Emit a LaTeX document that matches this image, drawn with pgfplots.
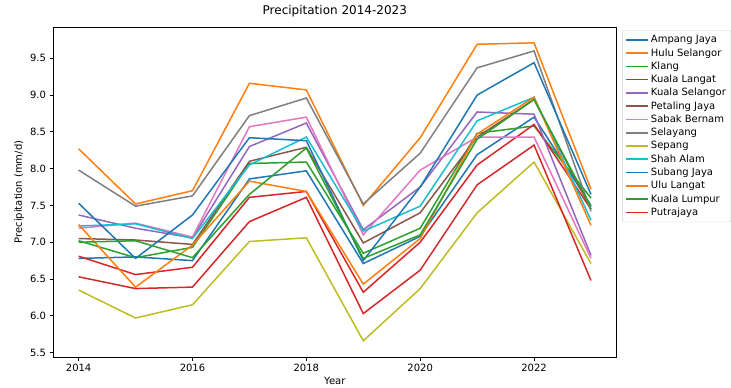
\documentclass[border=0pt]{standalone}
\usepackage{pgfplots}
\pgfplotsset{compat=1.18}
\usepackage{fontspec}
\setmainfont{DejaVu Sans}
\definecolor{c0}{HTML}{1F77B4}
\definecolor{c1}{HTML}{FF7F0E}
\definecolor{c2}{HTML}{2CA02C}
\definecolor{c3}{HTML}{D62728}
\definecolor{c4}{HTML}{9467BD}
\definecolor{c5}{HTML}{8C564B}
\definecolor{c6}{HTML}{E377C2}
\definecolor{c7}{HTML}{7F7F7F}
\definecolor{c8}{HTML}{BCBD22}
\definecolor{c9}{HTML}{17BECF}
\begin{document}
\begin{tikzpicture}
\begin{axis}[
  scale only axis, width=563.6pt, height=330pt,
  xmin=2013.55, xmax=2023.45, ymin=5.44, ymax=9.925,
  xtick={2014,2016,2018,2020,2022},
  ytick={5.5,6.0,6.5,7.0,7.5,8.0,8.5,9.0,9.5},
  /pgf/number format/assume math mode=true,
  xticklabel style={/pgf/number format/1000 sep={}},
  yticklabel style={/pgf/number format/fixed,/pgf/number format/precision=1,/pgf/number format/fixed zerofill},
  tick align=outside, major tick length=3.5pt, tick style={black, line width=0.8pt},
  xtick pos=bottom, ytick pos=left,
  axis line style={black, line width=0.8pt},
  ticklabel style={font=\fontsize{10}{12}\selectfont},
  title={Precipitation 2014-2023},
  title style={font=\fontsize{12}{14}\selectfont, at={(axis description cs:0.5,1.03)}, anchor=center},
  xlabel={Year}, ylabel={Precipitation (mm/d)},
  label style={font=\fontsize{10}{12}\selectfont},
  xlabel style={at={(axis description cs:0.5,-0.0727)}, anchor=center},
  ylabel style={at={(axis description cs:-0.0603,0.5)}, anchor=center},
  legend style={at={(1.01,0.99)}, anchor=north west, draw=gray!35, rounded corners=2pt,
    font=\fontsize{10}{12}\selectfont, row sep=0.2pt, inner sep=3pt},
  legend cell align=left,
  legend image code/.code={\draw[#1, line width=1.5pt] (0pt,0pt) -- (22pt,0pt);},
  every axis plot/.append style={line width=1.5pt, mark=none},
]
\coordinate (sw) at (rel axis cs:0,0);
\coordinate (ne) at (rel axis cs:1,1);
% Ampang Jaya
\addplot[c0] coordinates {(2014,6.78)(2015,6.80)(2016,6.75)(2017,7.86)(2018,7.97)(2019,6.71)(2020,7.08)(2021,8.19)(2022,8.70)(2023,7.50)};
\addlegendentry{Ampang Jaya}
% Hulu Selangor
\addplot[c1] coordinates {(2014,8.27)(2015,7.52)(2016,7.70)(2017,9.16)(2018,9.07)(2019,7.50)(2020,8.42)(2021,9.69)(2022,9.71)(2023,7.72)};
\addlegendentry{Hulu Selangor}
% Klang
\addplot[c2] coordinates {(2014,7.02)(2015,6.79)(2016,6.93)(2017,8.07)(2018,8.09)(2019,6.85)(2020,7.19)(2021,8.48)(2022,8.58)(2023,7.60)};
\addlegendentry{Klang}
% Kuala Langat
\addplot[c3] coordinates {(2014,6.81)(2015,6.56)(2016,6.66)(2017,7.61)(2018,7.69)(2019,6.32)(2020,7.00)(2021,8.05)(2022,8.60)(2023,7.45)};
\addlegendentry{Kuala Langat}
% Kuala Selangor
\addplot[c4] coordinates {(2014,7.37)(2015,7.19)(2016,7.06)(2017,8.30)(2018,8.62)(2019,7.17)(2020,7.75)(2021,8.77)(2022,8.74)(2023,6.82)};
\addlegendentry{Kuala Selangor}
% Petaling Jaya
\addplot[c5] coordinates {(2014,7.05)(2015,7.03)(2016,6.97)(2017,8.10)(2018,8.29)(2019,6.99)(2020,7.40)(2021,8.43)(2022,8.94)(2023,7.45)};
\addlegendentry{Petaling Jaya}
% Sabak Bernam
\addplot[c6] coordinates {(2014,7.19)(2015,7.26)(2016,7.07)(2017,8.57)(2018,8.70)(2019,7.10)(2020,7.98)(2021,8.43)(2022,8.43)(2023,6.78)};
\addlegendentry{Sabak Bernam}
% Selayang
\addplot[c7] coordinates {(2014,7.98)(2015,7.49)(2016,7.63)(2017,8.72)(2018,8.96)(2019,7.52)(2020,8.21)(2021,9.37)(2022,9.60)(2023,7.42)};
\addlegendentry{Selayang}
% Sepang
\addplot[c8] coordinates {(2014,6.35)(2015,5.97)(2016,6.15)(2017,7.01)(2018,7.06)(2019,5.66)(2020,6.37)(2021,7.40)(2022,8.09)(2023,6.71)};
\addlegendentry{Sepang}
% Shah Alam
\addplot[c9] coordinates {(2014,7.22)(2015,7.25)(2016,7.05)(2017,8.05)(2018,8.43)(2019,7.15)(2020,7.49)(2021,8.65)(2022,8.97)(2023,7.30)};
\addlegendentry{Shah Alam}
% Subang Jaya
\addplot[c0] coordinates {(2014,7.53)(2015,6.78)(2016,7.37)(2017,8.42)(2018,8.38)(2019,6.75)(2020,7.75)(2021,9.00)(2022,9.44)(2023,7.65)};
\addlegendentry{Subang Jaya}
% Ulu Langat
\addplot[c1] coordinates {(2014,7.24)(2015,6.39)(2016,6.96)(2017,7.83)(2018,7.69)(2019,6.43)(2020,7.05)(2021,8.47)(2022,8.97)(2023,7.23)};
\addlegendentry{Ulu Langat}
% Kuala Lumpur
\addplot[c2] coordinates {(2014,7.00)(2015,7.02)(2016,6.79)(2017,7.65)(2018,8.28)(2019,6.78)(2020,7.10)(2021,8.40)(2022,8.94)(2023,7.48)};
\addlegendentry{Kuala Lumpur}
% Putrajaya
\addplot[c3] coordinates {(2014,6.53)(2015,6.37)(2016,6.39)(2017,7.28)(2018,7.61)(2019,6.03)(2020,6.62)(2021,7.78)(2022,8.32)(2023,6.48)};
\addlegendentry{Putrajaya}
\end{axis}
\pgfresetboundingbox
\useasboundingbox ([xshift=-53pt,yshift=-30pt]sw) rectangle ([xshift=114.4pt,yshift=27pt]ne);
\end{tikzpicture}
\end{document}
